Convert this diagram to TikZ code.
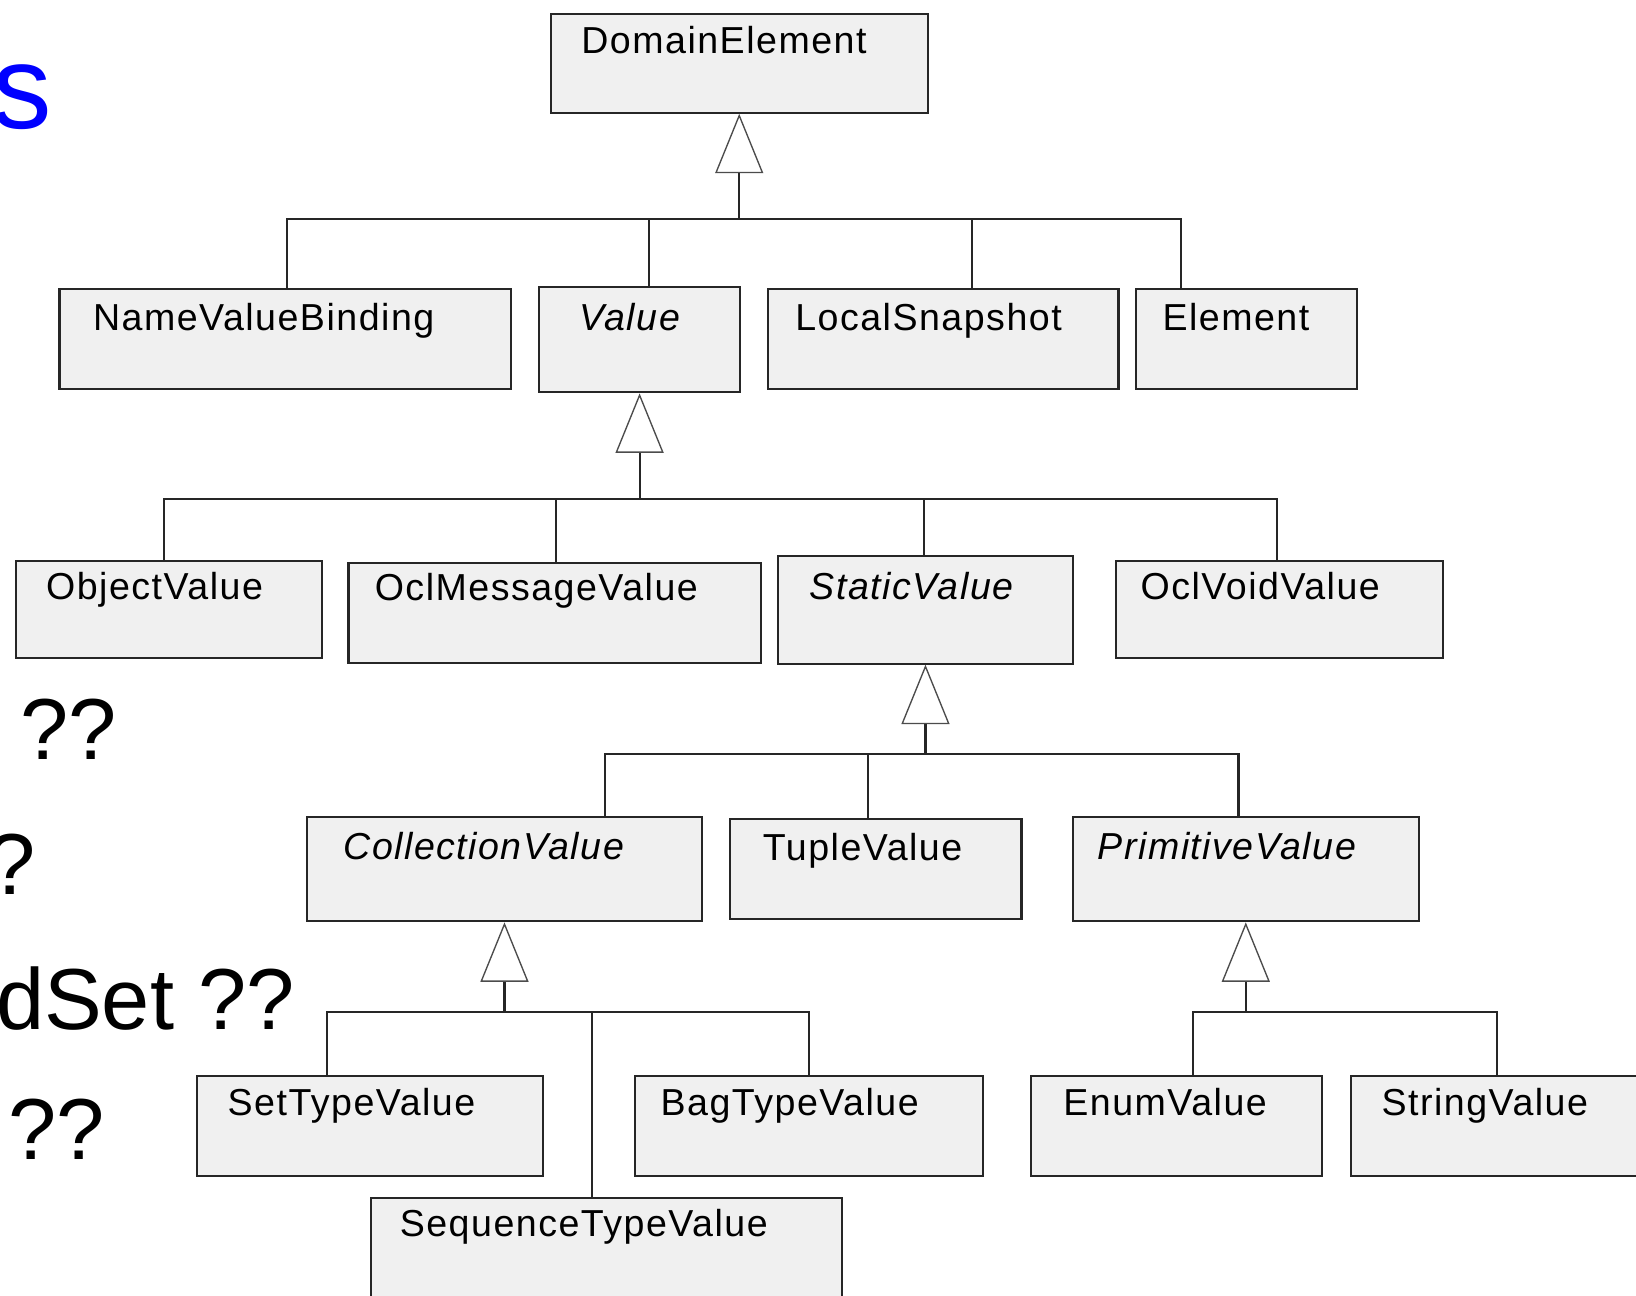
\documentclass[tikz,border=0pt]{standalone}
\usepackage{fontspec}
\setmainfont{Liberation Sans}
\newfontfamily\umlfont[LetterSpace=4]{Liberation Sans}
\usetikzlibrary{arrows.meta,calc}

\tikzset{
  x=1pt, y=-1pt,
  cls/.style={draw=black!85, line width=2pt, fill=black!6, anchor=north west,
              inner sep=0pt, minimum width=#1},
  lbl/.style={anchor=base west, inner sep=0pt, font=\umlfont\fontsize{36}{42}\selectfont},
  ilbl/.style={anchor=base west, inner sep=0pt, font=\umlfont\fontsize{36}{42}\selectfont\itshape},
  link/.style={draw=black!85, line width=2pt},
  gen/.style={link, -{Triangle[length=57pt, width=46pt, fill=white, color=black!70, line width=1.3pt]}},
  side/.style={anchor=base west, inner sep=0pt, font=\fontsize{83}{90}\selectfont},
}

\begin{document}
\begin{tikzpicture}
\path[use as bounding box, fill=white] (0,0) rectangle (1568,1242);
\clip (0,0) rectangle (1568,1242);

% heading fragment and side notes
\node[anchor=base west, inner sep=0pt, text=blue, font=\fontsize{114}{120}\selectfont] (head) at (-7,123) {s};
\node[side] (q1) at (19,728) {??};
\node[side] (q2) at (-12,857) {?};
\node[side] (q3) at (-4,987) {dSet ??};
\node[side] (q4) at (8,1111) {??};

% classes
\node[cls=361pt, minimum height=95pt]  (de)   at (527,12)   {};
\node[cls=433pt, minimum height=96pt]  (nvb)  at (56,276)   {};
\node[cls=192pt, minimum height=101pt] (val)  at (516,274)  {};
\node[cls=336pt, minimum height=96pt]  (ls)   at (735,276)  {};
\node[cls=212pt, minimum height=96pt]  (el)   at (1088,276) {};
\node[cls=294pt, minimum height=93pt]  (ov)   at (14,537)   {};
\node[cls=395pt, minimum height=95pt]  (omv)  at (333,539)  {};
\node[cls=282pt, minimum height=103pt] (sv)   at (745,532)  {};
\node[cls=313pt, minimum height=93pt]  (ovv)  at (1069,537) {};
\node[cls=379pt, minimum height=100pt] (cv)   at (293,782)  {};
\node[cls=279pt, minimum height=96pt]  (tv)   at (699,784)  {};
\node[cls=332pt, minimum height=100pt] (pv)   at (1027,782) {};
\node[cls=331pt, minimum height=96pt]  (stv)  at (188,1030) {};
\node[cls=333pt, minimum height=96pt]  (btv)  at (608,1030) {};
\node[cls=279pt, minimum height=96pt]  (env)  at (987,1030) {};
\node[cls=300pt, minimum height=96pt]  (strv) at (1294,1030) {};
\node[cls=451pt, minimum height=120pt] (seqv) at (355,1147) {};

% class names
\node[lbl]  (deT)   at (557,51)    {DomainElement};
\node[lbl]  (nvbT)  at (89,317)    {NameValueBinding};
\node[ilbl] (valT)  at (555,317)   {Value};
\node[lbl]  (lsT)   at (762,317)   {LocalSnapshot};
\node[lbl]  (elT)   at (1114,317)  {Element};
\node[lbl]  (ovT)   at (44,575)    {ObjectValue};
\node[lbl]  (omvT)  at (359,576)   {OclMessageValue};
\node[ilbl] (svT)   at (776,575)   {StaticValue};
\node[lbl]  (ovvT)  at (1093,575)  {OclVoidValue};
\node[ilbl] (cvT)   at (329,824)   {CollectionValue};
\node[lbl]  (tvT)   at (731,825)   {TupleValue};
\node[ilbl] (pvT)   at (1052,824)  {PrimitiveValue};
\node[lbl]  (stvT)  at (218,1069)  {SetTypeValue};
\node[lbl]  (btvT)  at (633,1069)  {BagTypeValue};
\node[lbl]  (envT)  at (1019,1069) {EnumValue};
\node[lbl]  (strvT) at (1324,1069) {StringValue};
\node[lbl]  (seqvT) at (383,1185)  {SequenceTypeValue};

% bus junctions below each superclass
\coordinate (b0) at (de.south |- 0,210);
\coordinate (b1) at (val.south |- 0,478);
\coordinate (b2) at (sv.south |- 0,723);
\coordinate (b3) at (cv.south |- 0,970);
\coordinate (b4) at (pv.south |- 0,970);

% generalizations of DomainElement
\draw[link] (b0) -| (nvb.north -| 275,0);
\draw[link] (b0) -| (val.north -| 622,0);
\draw[link] (b0) -| (ls.north -| 932,0);
\draw[link] (b0) -| (el.north -| 1132,0);
\draw[gen]  (b0) -- (de.south);

% generalizations of Value
\draw[link] (b1) -| (ov.north -| 157,0);
\draw[link] (b1) -| (omv.north -| 533,0);
\draw[link] (b1) -| (sv.north -| 886,0);
\draw[link] (b1) -| (ovv.north -| 1224,0);
\draw[gen]  (b1) -- (val.south);

% generalizations of StaticValue
\draw[link] (b2) -| (cv.north -| 580,0);
\draw[link] (b2) -| (tv.north -| 832,0);
\draw[link] (b2) -| (pv.north -| 1187,0);
\draw[gen]  (b2) -- (sv.south);

% generalizations of CollectionValue
\draw[link] (b3) -| (stv.north -| 313,0);
\draw[link] (b3) -| (seqv.north -| 567,0);
\draw[link] (b3) -| (btv.north -| 775,0);
\draw[gen]  (b3) -- (cv.south);

% generalizations of PrimitiveValue
\draw[link] (b4) -| (env.north -| 1143,0);
\draw[link] (b4) -| (strv.north -| 1435,0);
\draw[gen]  (b4) -- (pv.south);
\end{tikzpicture}
\end{document}
